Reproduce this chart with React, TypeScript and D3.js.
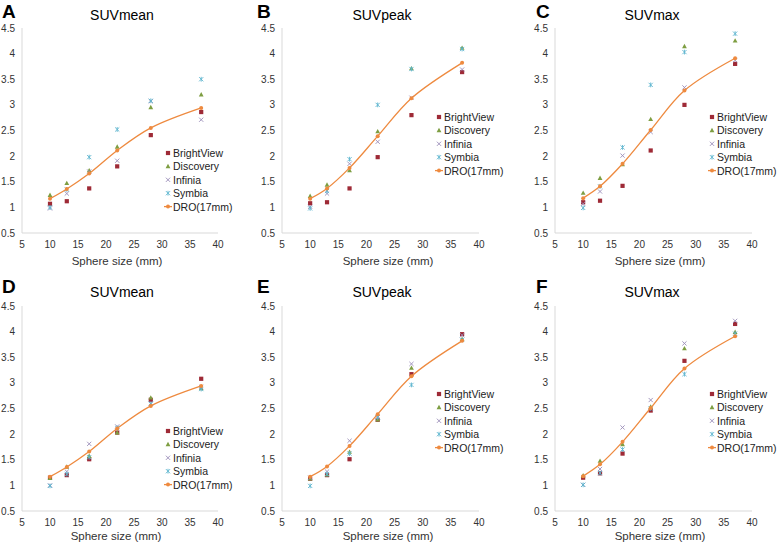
import React from "react";
import * as d3 from "d3";

// ---------- data ----------
const sizes = [10, 13, 17, 22, 28, 37];
const xTicks = [5, 10, 15, 20, 25, 30, 35, 40];
const yTicks = [0.5, 1, 1.5, 2, 2.5, 3, 3.5, 4, 4.5];
const seriesNames = ["BrightView", "Discovery", "Infinia", "Symbia", "DRO(17mm)"];
const panelLetters = ["A", "B", "C", "D", "E", "F"];
const panelTitles = ["SUVmean", "SUVpeak", "SUVmax", "SUVmean", "SUVpeak", "SUVmax"];
const xAxisTitle = "Sphere size (mm)";

const droMean = [1.17, 1.36, 1.66, 2.11, 2.55, 2.94];
const droPeak = [1.17, 1.37, 1.77, 2.39, 3.13, 3.82];
const droMax = [1.18, 1.41, 1.85, 2.51, 3.28, 3.91];

// Panel A (SUVmean, top)
const brightViewA = [1.07, 1.12, 1.37, 1.80, 2.41, 2.86];
const discoveryA = [1.24, 1.47, 1.72, 2.18, 2.95, 3.20];
const infiniaA = [0.98, 1.27, 1.70, 1.91, 3.07, 2.71];
const symbiaA = [1.00, 1.35, 1.98, 2.52, 3.08, 3.50];
// Panel B (SUVpeak, top)
const brightViewB = [1.08, 1.10, 1.37, 1.98, 2.80, 3.64];
const discoveryB = [1.22, 1.44, 1.72, 2.48, 3.71, 4.11];
const infiniaB = [1.01, 1.27, 1.85, 2.28, 3.14, 3.69];
const symbiaB = [0.98, 1.32, 1.94, 3.00, 3.70, 4.09];
// Panel C (SUVmax, top)
const brightViewC = [1.10, 1.13, 1.42, 2.11, 3.00, 3.80];
const discoveryC = [1.28, 1.57, 1.84, 2.72, 4.14, 4.25];
const infiniaC = [1.07, 1.31, 2.01, 2.47, 3.34, 3.87];
const symbiaC = [0.99, 1.41, 2.17, 3.39, 4.03, 4.39];
// Panel D (SUVmean, bottom)
const brightViewD = [1.15, 1.20, 1.51, 2.03, 2.67, 3.08];
const discoveryD = [1.14, 1.36, 1.57, 2.03, 2.71, 2.89];
const infiniaD = [1.00, 1.27, 1.81, 2.15, 2.60, 2.92];
const symbiaD = [0.99, 1.22, 1.55, 2.12, 2.59, 2.88];
// Panel E (SUVpeak, bottom)
const brightViewE = [1.13, 1.20, 1.51, 2.28, 3.17, 3.95];
const discoveryE = [1.13, 1.21, 1.65, 2.28, 3.29, 3.85];
const infiniaE = [1.15, 1.27, 1.87, 2.33, 3.37, 3.93];
const symbiaE = [0.99, 1.22, 1.62, 2.33, 2.96, 3.84];
// Panel F (SUVmax, bottom)
const brightViewF = [1.15, 1.235, 1.62, 2.46, 3.43, 4.15];
const discoveryF = [1.19, 1.475, 1.80, 2.53, 3.67, 3.99];
const infiniaF = [1.01, 1.32, 2.13, 2.665, 3.77, 4.21];
const symbiaF = [1.01, 1.24, 1.70, 2.50, 3.17, 3.96];

const panelSeries = [
  [brightViewA, discoveryA, infiniaA, symbiaA, droMean],
  [brightViewB, discoveryB, infiniaB, symbiaB, droPeak],
  [brightViewC, discoveryC, infiniaC, symbiaC, droMax],
  [brightViewD, discoveryD, infiniaD, symbiaD, droMean],
  [brightViewE, discoveryE, infiniaE, symbiaE, droPeak],
  [brightViewF, discoveryF, infiniaF, symbiaF, droMax],
];

// ---------- styling / layout ----------
const COLORS = ["#9E2A36", "#7E9E42", "#9A8CB8", "#5DB6CF", "#EE8A3F"];
const FONT = "'Liberation Sans', Arial, sans-serif";

const layout = [
  { x0: 22, x1: 218, yT: 28, yB: 233, letterX: 2, letterY: 18, titleX: 122, titleY: 20, axTitleX: 117, axTitleY: 265, legX: 168, legY: 153 },
  { x0: 282, x1: 479, yT: 28, yB: 233, letterX: 257, letterY: 18, titleX: 382, titleY: 20, axTitleX: 388, axTitleY: 265, legX: 439, legY: 117 },
  { x0: 555, x1: 752, yT: 28, yB: 233, letterX: 536, letterY: 18, titleX: 652, titleY: 20, axTitleX: 660, axTitleY: 265, legX: 712, legY: 117 },
  { x0: 22, x1: 218, yT: 306, yB: 511, letterX: 2, letterY: 293, titleX: 122, titleY: 297, axTitleX: 116, axTitleY: 540, legX: 168, legY: 431 },
  { x0: 282, x1: 479, yT: 306, yB: 511, letterX: 257, letterY: 293, titleX: 382, titleY: 297, axTitleX: 388, axTitleY: 540, legX: 439, legY: 394 },
  { x0: 555, x1: 752, yT: 306, yB: 511, letterX: 536, letterY: 293, titleX: 652, titleY: 297, axTitleX: 660, axTitleY: 540, legX: 712, legY: 394 },
];

function Marker({ kind, x, y }: { kind: number; x: number; y: number }) {
  const c = COLORS[kind];
  const s = 2.1;
  if (kind === 0) return <rect x={x - s} y={y - s} width={2 * s} height={2 * s} fill={c} />;
  if (kind === 1)
    return <path d={`M${x},${y - 2.6}L${x + 2.4},${y + 1.8}L${x - 2.4},${y + 1.8}Z`} fill={c} />;
  if (kind === 2)
    return (
      <path d={`M${x - s},${y - s}L${x + s},${y + s}M${x - s},${y + s}L${x + s},${y - s}`} stroke={c} strokeWidth={0.9} />
    );
  if (kind === 3)
    return (
      <path
        d={`M${x - s},${y - s}L${x + s},${y + s}M${x - s},${y + s}L${x + s},${y - s}M${x},${y - 2.4}L${x},${y + 2.4}`}
        stroke={c}
        strokeWidth={0.9}
      />
    );
  return <circle cx={x} cy={y} r={2} fill={c} />;
}

function Panel({ idx }: { idx: number }) {
  const L = layout[idx];
  const xs = d3.scaleLinear().domain([5, 40]).range([L.x0, L.x1]);
  const ys = d3.scaleLinear().domain([0.5, 4.5]).range([L.yB, L.yT]);
  const series = panelSeries[idx];
  const line = d3
    .line<number>()
    .x((_, i) => xs(sizes[i]))
    .y((d) => ys(d))
    .curve(d3.curveCatmullRom.alpha(0.5));
  const fmt = (d: number) => String(d);
  return (
    <g>
      <text x={L.letterX} y={L.letterY} fontFamily={FONT} fontWeight="bold" fontSize={19} fill="#000">
        {panelLetters[idx]}
      </text>
      <text x={L.titleX} y={L.titleY} fontFamily={FONT} fontSize={14} textAnchor="middle" fill="#000">
        {panelTitles[idx]}
      </text>
      {/* axes */}
      <line x1={L.x0} x2={L.x0} y1={L.yT} y2={L.yB} stroke="#D9D9D9" strokeWidth={1} />
      <line x1={L.x0} x2={L.x1} y1={L.yB} y2={L.yB} stroke="#D9D9D9" strokeWidth={1} />
      {yTicks.map((t) => (
        <text key={"y" + t} x={L.x0 - 7} y={ys(t) + 3.5} fontFamily={FONT} fontSize={10} textAnchor="end" fill="#333">
          {fmt(t)}
        </text>
      ))}
      {xTicks.map((t) => (
        <text key={"x" + t} x={xs(t)} y={L.yB + 15} fontFamily={FONT} fontSize={10} textAnchor="middle" fill="#333">
          {fmt(t)}
        </text>
      ))}
      <text x={L.axTitleX} y={L.axTitleY} fontFamily={FONT} fontSize={11.5} textAnchor="middle" fill="#333">
        {xAxisTitle}
      </text>
      {/* scatter series */}
      {series.slice(0, 4).map((vals, k) =>
        vals.map((v, i) => <Marker key={`m${k}-${i}`} kind={k} x={xs(sizes[i])} y={ys(v)} />)
      )}
      {/* DRO line */}
      <path d={line(series[4]) || ""} fill="none" stroke={COLORS[4]} strokeWidth={1.3} />
      {series[4].map((v, i) => (
        <Marker key={"d" + i} kind={4} x={xs(sizes[i])} y={ys(v)} />
      ))}
      {/* legend */}
      {seriesNames.map((name, k) => {
        const y = L.legY + k * 13.4;
        return (
          <g key={name}>
            {k === 4 ? (
              <g>
                <line x1={L.legX - 4} x2={L.legX + 4} y1={y} y2={y} stroke={COLORS[4]} strokeWidth={1.3} />
                <Marker kind={4} x={L.legX} y={y} />
              </g>
            ) : (
              <Marker kind={k} x={L.legX} y={y} />
            )}
            <text x={L.legX + 5} y={y + 4} fontFamily={FONT} fontSize={10.5} fill="#222">
              {name}
            </text>
          </g>
        );
      })}
    </g>
  );
}

export default function App() {
  return (
    <svg
      width={778}
      height={547}
      style={{ position: "absolute", left: 0, top: 0, background: "#fff" }}
      xmlns="http://www.w3.org/2000/svg"
    >
      <rect width={778} height={547} fill="#fff" />
      {layout.map((_, i) => (
        <Panel key={i} idx={i} />
      ))}
    </svg>
  );
}
